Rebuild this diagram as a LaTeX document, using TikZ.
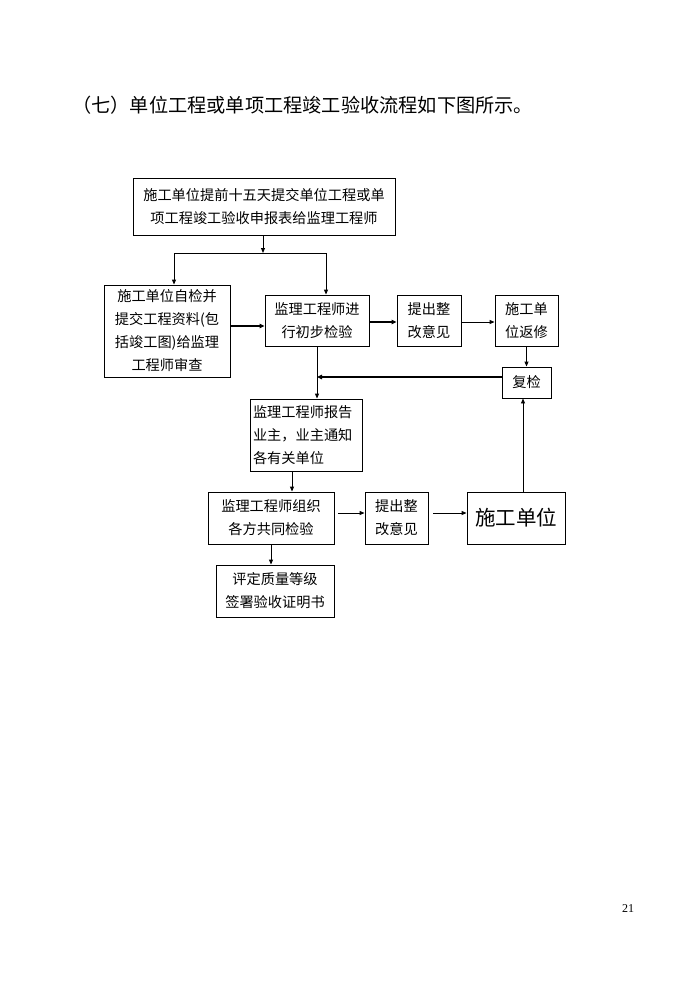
\documentclass[tikz,border=0pt]{standalone}
\usepackage{fontspec}
\setmainfont{Noto Sans CJK SC}
\newfontfamily\pnfont{Liberation Serif}
\usetikzlibrary{arrows.meta}
\begin{document}
\begin{tikzpicture}[x=1pt,y=-1pt,
  box/.style={draw, line width=0.9pt, inner sep=0pt, font=\fontsize{14.2}{23}\selectfont, align=center},
  arr/.style={line width=0.9pt, -{Triangle[length=5pt,width=4pt]}},
  thk/.style={line width=2pt, -{Triangle[length=5pt,width=4.5pt]}},
  ln/.style={line width=0.9pt}]
\useasboundingbox (0,0) rectangle (696,983);
\node[anchor=west, font=\fontsize{19.2}{21}\selectfont, inner sep=0pt] (title) at (72,105) {（七）单位工程或单项工程竣工验收流程如下图所示。};
\node[box, minimum width=262, minimum height=57] (top) at (264,206.5) {施工单位提前十五天提交单位工程或单\\项工程竣工验收申报表给监理工程师};
\node[box, minimum width=126, minimum height=92] (A) at (167,331) {施工单位自检并\\提交工程资料(包\\括竣工图)给监理\\工程师审查};
\node[box, minimum width=104, minimum height=51] (B) at (317,320.5) {监理工程师进\\行初步检验};
\node[box, minimum width=64, minimum height=51] (C) at (429,320.5) {提出整\\改意见};
\node[box, minimum width=63, minimum height=51] (D) at (526.5,320.5) {施工单\\位返修};
\node[box, minimum width=49, minimum height=31] (R) at (526.5,382.5) {复检};
\node[box, minimum width=112, minimum height=72, align=left, text width=106] (E) at (306,435) {监理工程师报告\\业主，业主通知\\各有关单位};
\node[box, minimum width=126, minimum height=52] (F) at (271,518) {监理工程师组织\\各方共同检验};
\node[box, minimum width=63, minimum height=52] (G) at (396.5,518) {提出整\\改意见};
\node[box, minimum width=98, minimum height=52, font=\fontsize{20.5}{24}\selectfont] (H) at (516,518) {施工单位};
\node[box, minimum width=118, minimum height=52] (I) at (275,591) {评定质量等级\\签署验收证明书};
\node[font=\pnfont\fontsize{12}{14}\selectfont, inner sep=0pt] (pn) at (628,909) {21};
% connectors
\coordinate (j) at (263,253);
\coordinate (jA) at (174,253);
\coordinate (jB) at (326,253);
\coordinate (yAB) at (0,326);
\coordinate (yBC) at (0,322);
\coordinate (yR) at (0,377);
\coordinate (xEF) at (292,0);
\coordinate (xHR) at (523,0);
\coordinate (yFG) at (0,513);
\draw[arr] (top.south -| j) -- (j);
\draw[ln] (jA) -- (jB);
\draw[arr] (jA) -- (jA |- A.north);
\draw[arr] (jB) -- (jB |- B.north);
\draw[thk] (A.east |- yAB) -- (B.west |- yAB);
\draw[thk] (B.east |- yBC) -- (C.west |- yBC);
\draw[arr] (C.east |- yBC) -- (D.west |- yBC);
\draw[arr] (D.south) -- (R.north);
\draw[arr] (B.south) -- (B.south |- E.north);
\draw[thk] (R.west |- yR) -- (B.south |- yR);
\draw[arr] (E.south -| xEF) -- (F.north -| xEF);
\draw[arr] ([xshift=4pt]F.east |- yFG) -- (G.west |- yFG);
\draw[arr] ([xshift=5pt]G.east |- yFG) -- (H.west |- yFG);
\draw[arr] (H.north -| xHR) -- (R.south -| xHR);
\draw[arr] (F.south) -- (F.south |- I.north);
\end{tikzpicture}
\end{document}
